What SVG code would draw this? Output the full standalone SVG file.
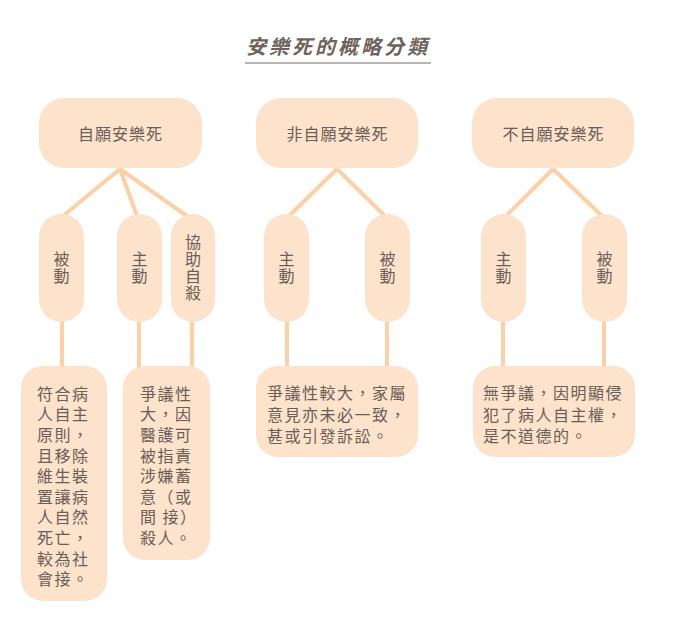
<svg xmlns="http://www.w3.org/2000/svg" width="692" height="634" viewBox="0 0 692 634">
<style>
.box{fill:#fde2cc;}
.t{font-family:"Noto Sans CJK TC","Noto Sans CJK SC",sans-serif;font-size:16px;fill:#6b5d57;dominant-baseline:central;}
.c{text-anchor:middle;}
.b{letter-spacing:1.5px;}
.v{font-family:"Noto Sans CJK TC","Noto Sans CJK SC",sans-serif;font-size:16px;fill:#6b5d57;writing-mode:vertical-rl;text-anchor:middle;letter-spacing:1px;}
.conn line{stroke:#fdd0a8;stroke-width:4;stroke-linecap:butt;}
</style>
<rect width="692" height="634" fill="#ffffff"/>
<g id="title">
<text x="338" y="45" class="t c" style="font-size:20px;font-style:italic;font-weight:bold;letter-spacing:3px;fill:#6e625c">安樂死的概略分類</text>
<line x1="245" y1="63" x2="431" y2="63" stroke="#7a6e68" stroke-width="1.2"/>
</g>
<g class="conn" id="connectors">
<line x1="120" y1="169" x2="63" y2="216"/>
<line x1="120" y1="169" x2="137" y2="216"/>
<line x1="120" y1="169" x2="187" y2="216"/>
<line x1="337" y1="169" x2="289" y2="216"/>
<line x1="337" y1="169" x2="385" y2="216"/>
<line x1="553" y1="169" x2="506" y2="216"/>
<line x1="553" y1="169" x2="602" y2="216"/>
<line x1="62" y1="320" x2="62" y2="368"/>
<line x1="139" y1="320" x2="139" y2="368"/>
<line x1="192" y1="320" x2="192" y2="368"/>
<line x1="287" y1="320" x2="287" y2="368"/>
<line x1="387" y1="320" x2="387" y2="368"/>
<line x1="503" y1="320" x2="503" y2="368"/>
<line x1="604" y1="320" x2="604" y2="368"/>
</g>
<g id="n-voluntary"><rect class="box" x="39" y="98" width="163" height="70" rx="25"/><text x="120.5" y="133" class="t c" style="letter-spacing:1px">自願安樂死</text></g>
<g id="n-nonvoluntary"><rect class="box" x="256" y="98" width="162" height="70" rx="25"/><text x="337.5" y="133" class="t c" style="letter-spacing:1px">非自願安樂死</text></g>
<g id="n-involuntary"><rect class="box" x="472" y="98" width="162" height="70" rx="25"/><text x="553.5" y="133" class="t c" style="letter-spacing:1px">不自願安樂死</text></g>

<g id="n-v-passive"><rect class="box" x="39" y="214" width="45" height="108" rx="22.5"/><text x="61.5" y="267.5" class="v">被動</text></g>
<g id="n-v-active"><rect class="box" x="117" y="214" width="45" height="108" rx="22.5"/><text x="139.5" y="267.5" class="v">主動</text></g>
<g id="n-v-assisted"><rect class="box" x="171" y="214" width="44" height="108" rx="22"/><text x="193" y="267.5" class="v">協助自殺</text></g>
<g id="n-nv-active"><rect class="box" x="264" y="214" width="45" height="108" rx="22.5"/><text x="286.5" y="267.5" class="v">主動</text></g>
<g id="n-nv-passive"><rect class="box" x="365" y="214" width="45" height="108" rx="22.5"/><text x="387.5" y="267.5" class="v">被動</text></g>
<g id="n-iv-active"><rect class="box" x="481" y="214" width="45" height="108" rx="22.5"/><text x="503.5" y="267.5" class="v">主動</text></g>
<g id="n-iv-passive"><rect class="box" x="582" y="214" width="45" height="108" rx="22.5"/><text x="604.5" y="267.5" class="v">被動</text></g>

<g id="d-v-passive"><rect class="box" x="21" y="366" width="86" height="235" rx="22"/>
<text class="t b"><tspan x="37" y="392.8">符合病</tspan><tspan x="37" dy="20.6">人自主</tspan><tspan x="37" dy="20.6">原則，</tspan><tspan x="37" dy="20.6">且移除</tspan><tspan x="37" dy="20.6">維生裝</tspan><tspan x="37" dy="20.6">置讓病</tspan><tspan x="37" dy="20.6">人自然</tspan><tspan x="37" dy="20.6">死亡，</tspan><tspan x="37" dy="20.6">較為社</tspan><tspan x="37" dy="20.6">會接。</tspan></text></g>
<g id="d-v-active"><rect class="box" x="123" y="366" width="87" height="194" rx="22"/>
<text class="t b"><tspan x="140" y="392.8">爭議性</tspan><tspan x="140" dy="20.6">大，因</tspan><tspan x="140" dy="20.6">醫護可</tspan><tspan x="140" dy="20.6">被指責</tspan><tspan x="140" dy="20.6">涉嫌蓄</tspan><tspan x="140" dy="20.6">意（或</tspan><tspan x="140" dy="20.6">間 接）</tspan><tspan x="140" dy="20.6">殺人。</tspan></text></g>
<g id="d-nv"><rect class="box" x="256" y="366" width="162" height="91" rx="22"/>
<text class="t b"><tspan x="267" y="392">爭議性較大，家屬</tspan><tspan x="267" dy="21.5">意見亦未必一致，</tspan><tspan x="267" dy="21.5">甚或引發訴訟。</tspan></text></g>
<g id="d-iv"><rect class="box" x="473" y="366" width="162" height="91" rx="22"/>
<text class="t b"><tspan x="483" y="392">無爭議，因明顯侵</tspan><tspan x="483" dy="21.5">犯了病人自主權，</tspan><tspan x="483" dy="21.5">是不道德的。</tspan></text></g>
</svg>
